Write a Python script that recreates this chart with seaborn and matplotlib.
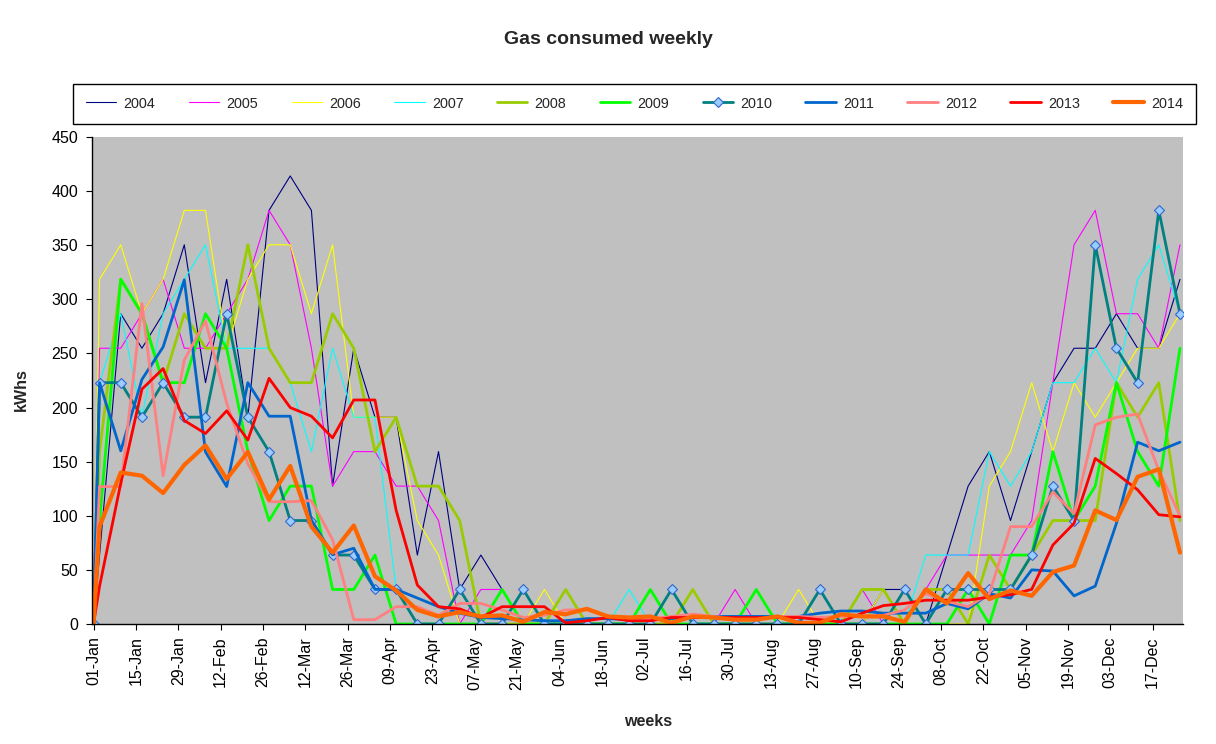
import numpy as np
import pandas as pd
import matplotlib
matplotlib.use("Agg")
import matplotlib.pyplot as plt
import seaborn as sns

# ---------------- data ----------------
years = ["2004", "2005", "2006", "2007", "2008", "2009", "2010", "2011", "2012", "2013", "2014"]

# reading dates: 1 Jan, then weekly readings
reading_dates = ["2014-01-01"] + [d.strftime("%Y-%m-%d") for d in pd.date_range("2014-01-03", periods=52, freq="7D")]

tick_labels = ["01-Jan", "15-Jan", "29-Jan", "12-Feb", "26-Feb", "12-Mar", "26-Mar", "09-Apr",
               "23-Apr", "07-May", "21-May", "04-Jun", "18-Jun", "02-Jul", "16-Jul", "30-Jul",
               "13-Aug", "27-Aug", "10-Sep", "24-Sep", "08-Oct", "22-Oct", "05-Nov", "19-Nov",
               "03-Dec", "17-Dec"]

y2004 = [0, 63.7, 286.7, 254.8, 286.7, 350.4, 223.0, 318.5, 191.1, 382.2, 414.0, 382.2, 127.4, 254.8,
         191.1, 191.1, 63.7, 159.3, 31.9, 63.7, 31.9, 0, 0, 0, 0, 0, 0, 0, 0, 0, 0, 0, 0, 0, 0, 0, 0, 0,
         31.9, 31.9, 0, 63.7, 127.4, 159.3, 95.6, 159.3, 223.0, 254.8, 254.8, 286.7, 254.8, 254.8, 318.5]
y2005 = [0, 254.8, 254.8, 286.7, 318.5, 254.8, 254.8, 286.7, 318.5, 382.2, 350.4, 254.8, 127.4, 159.3,
         159.3, 127.4, 127.4, 95.6, 0, 31.9, 31.9, 0, 0, 0, 0, 0, 0, 0, 0, 0, 0, 31.9, 0, 0, 0, 0, 0, 31.9,
         0, 0, 31.9, 63.7, 63.7, 63.7, 63.7, 95.6, 223.0, 350.4, 382.2, 286.7, 286.7, 254.8, 350.4]
y2006 = [0, 318.5, 350.4, 286.7, 318.5, 382.2, 382.2, 254.8, 318.5, 350.4, 350.4, 286.7, 350.4, 191.1,
         191.1, 191.1, 95.6, 63.7, 0, 0, 0, 0, 31.9, 0, 0, 0, 0, 0, 0, 0, 0, 0, 0, 0, 31.9, 0, 0, 0,
         31.9, 0, 0, 0, 0, 127.4, 159.3, 223.0, 159.3, 223.0, 191.1, 223.0, 254.8, 254.8, 286.7]
y2007 = [0, 223.0, 286.7, 191.1, 286.7, 318.5, 350.4, 254.8, 254.8, 254.8, 223.0, 159.3, 254.8, 191.1,
         191.1, 31.9, 0, 0, 0, 0, 0, 0, 0, 0, 0, 0, 31.9, 0, 0, 0, 0, 0, 0, 0, 0, 0, 0, 0,
         0, 0, 63.7, 63.7, 63.7, 159.3, 127.4, 159.3, 223.0, 223.0, 254.8, 223.0, 318.5, 350.4, 286.7]
y2008 = [0, 159.3, 318.5, 286.7, 223.0, 286.7, 254.8, 254.8, 350.4, 254.8, 223.0, 223.0, 286.7, 254.8,
         159.3, 191.1, 127.4, 127.4, 95.6, 0, 0, 0, 0, 31.9, 0, 0, 0, 0, 0, 31.9, 0, 0, 0, 0, 0, 0, 0, 31.9,
         31.9, 0, 31.9, 31.9, 0, 63.7, 31.9, 63.7, 95.6, 95.6, 95.6, 223.0, 191.1, 223.0, 95.6]
y2009 = [0, 95.6, 318.5, 286.7, 223.0, 223.0, 286.7, 254.8, 159.3, 95.6, 127.4, 127.4, 31.9, 31.9,
         63.7, 0, 0, 0, 0, 0, 31.9, 0, 0, 0, 0, 0, 0, 31.9, 0, 0, 0, 0, 31.9, 0, 0, 0, 0, 0,
         0, 0, 0, 0, 31.9, 0, 63.7, 63.7, 159.3, 95.6, 127.4, 223.0, 159.3, 127.4, 254.8]
y2010 = [0, 223.0, 223.0, 191.1, 223.0, 191.1, 191.1, 286.7, 191.1, 159.3, 95.6, 95.6, 63.7, 63.7,
         31.9, 31.9, 0, 0, 31.9, 0, 0, 31.9, 0, 0, 0, 0, 0, 0, 31.9, 0, 0, 0, 0, 0, 0, 31.9, 0, 0,
         0, 31.9, 0, 31.9, 31.9, 31.9, 31.9, 63.7, 127.4, 95.6, 350.4, 254.8, 223.0, 382.2, 286.7]
y2011 = [0, 223, 160, 226, 256, 318, 159, 127, 223, 192, 192, 96, 64, 70,
         32, 32, 24, 16, 10, 6, 5, 4, 3, 3, 5, 5, 4, 5, 5, 7, 7, 7, 7, 7, 7, 10, 12, 12,
         10, 10, 10, 19, 14, 28, 24, 50, 49, 26, 35, 93, 168, 160, 168]
y2012 = [0, 127, 127, 296, 137, 244, 280, 204, 148, 113, 113, 114, 78, 4,
         4, 16, 16, 8, 19, 19, 13, 6, 8, 13, 13, 7, 5, 5, 7, 9, 7, 5, 5, 7, 7, 6, 7, 7,
         8, 13, 28, 21, 16, 28, 90, 90, 122, 102, 184, 191, 194, 142, 100]
y2013 = [0, 35, 130, 217, 236, 188, 176, 197, 170, 227, 200, 192, 172, 207,
         207, 105, 36, 16, 14, 6, 16, 16, 16, 1, 3, 6, 3, 3, 6, 6, 6, 6, 6, 6, 6, 4, 2, 10,
         17, 19, 22, 22, 22, 25, 27, 32, 73, 93, 153, 139, 124, 101, 99]
y2014 = [0, 90, 140, 137, 121, 147, 165, 134, 159, 115, 146, 90, 66, 91,
         44, 31, 13, 7, 11, 7, 8, 2, 11, 9, 14, 7, 6, 7, 1, 7, 6, 4, 4, 7, 1, 1, 9, 7,
         7, 2, 32, 19, 47, 23, 31, 26, 48, 54, 105, 96, 136, 143, 66]

series = [y2004, y2005, y2006, y2007, y2008, y2009, y2010, y2011, y2012, y2013, y2014]

# ---------------- styles ----------------
colors = ["#000080", "#FF00FF", "#FFFF00", "#00FFFF", "#99CC00", "#00FF00",
          "#008080", "#0066CC", "#FF8080", "#FF0000", "#FF6600"]
widths = [0.8, 0.8, 0.8, 0.8, 2.0, 2.0, 2.0, 2.0, 2.0, 2.0, 3.0]

base = pd.Timestamp("2014-01-01")
days = [(pd.Timestamp(d) - base).days for d in reading_dates]
tick_pos = [(pd.to_datetime(t + "-2014", format="%d-%b-%Y") - base).days for t in tick_labels]

rows = []
for yr, vals in zip(years, series):
    for d, v in zip(days, vals):
        rows.append({"day": d, "kWh": v, "year": yr})
df = pd.DataFrame(rows)

sns.set_style("white")
plt.rcParams["font.family"] = ["Liberation Sans", "DejaVu Sans"]

fig = plt.figure(figsize=(12.16, 7.44), dpi=100)
ax = fig.add_axes([92 / 1216, 1 - 624 / 744, (1183 - 92) / 1216, (624 - 137) / 744])
ax.set_facecolor("#C0C0C0")

for yr, col, lw in zip(years, colors, widths):
    sub = df[df["year"] == yr]
    kw = {}
    if yr == "2010":
        kw = dict(marker="D", markersize=5, markerfacecolor="#99CCFF",
                  markeredgecolor="#3366CC", markeredgewidth=0.8)
    sns.lineplot(data=sub, x="day", y="kWh", ax=ax, color=col, linewidth=lw,
                 label=yr, estimator=None, sort=False, **kw)

ax.set_xlim(-0.5, 360)
ax.set_ylim(0, 450)
ax.set_yticks(np.arange(0, 451, 50))
ax.set_xticks(tick_pos)
ax.set_xticklabels(tick_labels, rotation=90)
ax.tick_params(axis="both", direction="out", length=4.5, width=0.8, colors="black",
               labelsize=11.5, bottom=True, left=True)
ax.tick_params(axis="x", pad=4.5)
ax.tick_params(axis="y", pad=5.5)
for s in ["top", "right"]:
    ax.spines[s].set_visible(False)
for s in ["left", "bottom"]:
    ax.spines[s].set_color("black")
    ax.spines[s].set_linewidth(1.0)
ax.set_xlabel("")
ax.set_ylabel("")
ax.grid(False)

handles, labels = ax.get_legend_handles_labels()
if ax.legend_ is not None:
    ax.legend_.remove()
leg = fig.legend(handles, labels, loc="center", ncol=11, mode="expand",
                 bbox_to_anchor=(73 / 1216, 1 - 127 / 744, (1196 - 73) / 1216, 47 / 744),
                 frameon=True, fancybox=False, edgecolor="black", framealpha=1,
                 borderaxespad=0, handlelength=2.1, handletextpad=0.5, fontsize=10.4,
                 borderpad=0.9)
leg.get_frame().set_linewidth(1.0)

fig.text(0.5, 1 - 39 / 744, "Gas consumed weekly", ha="center", va="center",
         fontsize=14, fontweight="bold")
fig.text(21 / 1216, 1 - 390 / 744, "kWhs", ha="center", va="center", rotation=90,
         fontsize=11.5, fontweight="bold")
fig.text(648 / 1216, 1 - 722 / 744, "weeks", ha="center", va="center",
         fontsize=11.5, fontweight="bold")

fig.savefig("out.png", dpi=100, facecolor="white")
